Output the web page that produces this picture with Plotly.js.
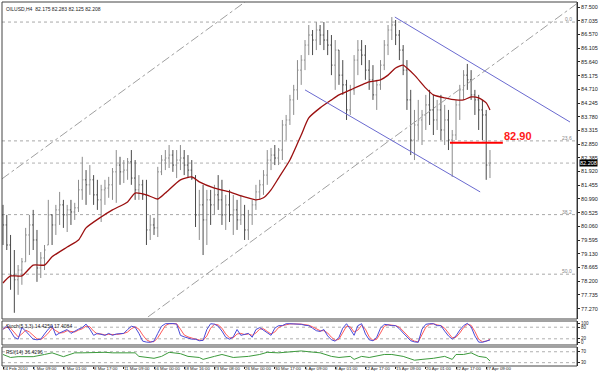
<!DOCTYPE html>
<html><head><meta charset="utf-8">
<script src="https://cdn.plot.ly/plotly-3.0.1.min.js"></script>
<style>html,body{margin:0;padding:0;background:#fff;}#chart{width:600px;height:376px;}</style>
</head><body><div id="chart"></div>
<script>
// ---- price bars (H4, one bar per slot) ----
const barOpen = [
80.45,80.11,79.43,78.41,78.25,78.58,78.86,79.77,80.11,79.60,
78.65,78.99,79.43,80.45,80.11,80.62,80.79,80.45,80.62,80.55,
80.69,81.30,81.64,81.47,81.64,81.13,80.96,81.30,81.36,81.47,
81.91,82.14,81.91,81.97,82.25,81.70,81.30,81.47,81.13,79.94,
80.11,80.01,81.91,82.31,82.38,82.48,82.14,82.31,82.38,82.14,
81.97,81.70,80.45,80.79,80.28,80.96,80.79,81.13,80.96,80.45,
80.79,80.45,80.62,80.28,80.45,79.94,80.45,80.79,81.23,81.47,
81.80,82.31,82.48,82.38,82.65,83.50,83.67,84.35,84.69,85.36,
85.70,86.21,86.55,86.38,86.72,86.55,86.38,86.21,85.53,86.04,
85.19,84.86,84.01,84.69,85.70,86.04,85.87,85.36,85.03,84.52,
84.86,85.53,86.21,86.72,86.89,86.55,86.04,85.36,84.35,82.99,
83.50,83.67,83.84,84.18,84.01,83.67,84.01,83.33,83.67,82.99,
83.16,84.18,84.69,85.19,85.03,84.52,84.35,84.01,83.84,82.14];
const barHigh = [
80.79,80.45,79.77,79.26,78.75,78.99,80.01,80.45,80.62,79.94,
79.19,79.43,80.96,80.45,80.79,81.23,80.96,80.79,80.96,80.86,
81.64,82.42,81.97,82.14,81.80,81.64,81.47,81.64,81.74,82.04,
82.65,82.42,82.31,82.38,82.65,82.31,81.80,81.64,81.64,80.45,
80.35,82.08,82.48,82.65,82.82,82.65,82.65,82.82,82.65,82.48,
82.31,81.80,81.30,81.47,81.30,81.30,81.47,81.80,81.64,81.13,
81.30,81.13,80.96,81.13,80.79,80.62,80.96,81.47,81.64,81.97,
82.65,82.72,82.82,82.72,83.67,83.84,84.52,84.86,85.70,85.87,
86.38,86.89,86.72,86.99,86.89,86.99,86.72,86.55,86.38,86.04,
85.70,85.03,84.86,85.87,86.38,86.38,86.21,85.70,85.53,85.03,
85.70,86.38,86.89,87.16,87.06,86.72,86.21,85.70,84.69,84.01,
84.35,84.01,84.52,84.69,84.52,84.35,84.52,84.18,84.01,83.33,
84.35,84.86,85.36,85.57,85.36,84.69,84.52,84.35,84.01,82.65];
const barLow = [
79.43,79.26,77.91,77.13,77.74,78.08,78.86,79.09,79.26,78.18,
78.31,78.58,79.43,79.43,79.77,80.11,80.01,79.87,80.11,80.28,
80.55,80.96,80.79,81.13,80.79,80.62,80.21,80.79,81.03,80.96,
80.86,81.47,81.53,81.64,81.47,80.96,80.96,80.96,79.43,79.60,
79.77,79.70,81.80,81.97,82.04,81.91,81.70,81.97,81.80,81.70,
81.64,80.04,79.60,79.09,79.43,80.11,80.45,80.62,80.11,79.94,
80.21,79.77,79.94,80.11,79.60,79.60,80.11,80.62,80.96,81.13,
81.47,81.97,82.14,82.14,82.31,82.99,83.50,83.84,84.35,84.86,
85.36,85.87,85.87,86.04,86.21,86.04,85.87,85.19,84.69,84.86,
84.52,83.67,83.84,84.52,85.19,85.53,85.03,84.69,84.35,84.01,
84.69,85.36,85.87,86.38,86.21,85.70,85.19,84.01,82.48,82.31,
82.99,82.82,83.33,83.50,83.16,83.33,82.99,82.82,82.65,81.74,
82.99,83.67,84.35,84.69,84.35,83.84,83.33,82.99,81.64,81.70];
const barClose = [
80.11,79.43,78.41,78.25,78.58,78.86,79.77,80.11,79.60,78.65,
78.99,79.26,80.45,80.11,80.62,80.79,80.45,80.62,80.55,80.69,
81.30,81.64,81.47,81.64,81.13,80.96,81.30,81.36,81.47,81.91,
82.14,81.91,81.97,82.25,81.70,81.30,81.47,81.13,79.94,80.11,
80.01,81.91,82.31,82.38,82.48,82.14,82.31,82.38,82.14,81.97,
81.70,80.45,80.79,80.28,80.96,80.79,81.13,80.96,80.45,80.79,
80.45,80.62,80.28,80.45,79.94,80.45,80.79,81.23,81.47,81.80,
82.31,82.48,82.38,82.65,83.50,83.67,84.35,84.69,85.36,85.70,
86.21,86.55,86.38,86.72,86.55,86.38,86.21,85.53,86.04,85.19,
84.86,84.01,84.69,85.70,86.04,85.87,85.36,85.03,84.52,84.86,
85.53,86.21,86.72,86.89,86.55,86.04,85.36,84.35,82.99,83.50,
83.67,83.84,84.18,84.01,83.67,84.01,83.33,83.67,82.99,83.16,
84.18,84.69,85.19,85.03,84.52,84.35,84.01,83.84,82.14,82.21];
const barIndex = barOpen.map((_, i) => i);

// ---- moving average ----
const maBar = [0,2,5,8,11,13,17,20,22,26,29,33,35,38,41,43,47,50,52,56,60,64,67,69,71,73,76,79,81,84,87,89,92,95,97,100,102,104,106,107,109,112,114,117,120,122,124,126,128,129];
const maValue = [78.14,78.38,78.38,78.75,78.75,79.03,79.36,79.60,80.01,80.38,80.62,80.89,81.19,81.13,80.99,81.19,81.64,81.74,81.57,81.36,81.23,81.06,80.96,81.03,81.30,81.70,82.31,83.16,83.74,84.08,84.35,84.52,84.69,84.86,84.96,85.03,85.19,85.43,85.53,85.43,85.19,84.75,84.52,84.42,84.35,84.35,84.45,84.42,84.25,84.01];

// ---- stochastic (5,3,3) ----
const stochMain = [68,88,60,28,18,78,60,38,18,15,18,45,70,88,38,50,60,68,48,60,70,78,96,70,38,48,42,38,48,38,45,48,48,68,85,80,48,8,3,2,8,48,85,98,100,99,96,38,30,25,18,18,10,12,68,98,96,85,60,28,18,30,68,38,45,48,28,68,78,65,48,38,75,88,88,98,98,97,98,95,90,88,75,62,58,68,35,15,8,28,75,98,70,38,88,98,45,15,10,28,75,95,92,88,88,72,50,28,10,4,2,70,95,98,98,88,88,60,35,18,35,65,88,100,82,35,3,2,10,14];
const stochSignal = [70,80,75,50,30,45,65,55,35,20,16,30,50,75,62,50,52,62,58,55,65,72,85,82,60,45,45,40,43,42,42,45,48,55,72,82,70,40,15,5,5,25,60,88,98,99,98,70,40,30,22,18,14,12,35,75,95,92,75,45,25,25,45,48,42,45,38,50,70,72,58,45,55,78,88,92,97,97,97,96,93,90,82,70,62,62,50,28,12,18,50,85,82,55,65,90,70,30,12,18,50,85,93,90,88,80,62,40,18,8,4,40,80,95,98,92,88,75,48,25,28,50,78,95,90,58,18,5,8,17];
const stochLevels = [80, 20];

// ---- RSI(14) ----
const rsiBar = [0,2,4,8,11,13,16,19,21,24,27,29,32,34,35,36,38,40,42,44,47,49,52,53,56,58,61,65,68,70,73,76,79,81,84,87,89,92,93,95,97,101,103,106,109,111,114,117,119,120,122,124,126,128,129];
const rsiValue = [60,49,52,52,60,66,52,66,66,68,68,66,66,68,66,53,49,46,53,68,63,53,49,42,53,60,49,53,60,68,66,70,73,70,66,53,49,53,42,53,49,60,60,53,39,42,46,53,42,60,60,66,53,49,36.4];
const rsiLevels = [70, 30];

// ---- annotations / drawn objects ----
const fibLabels = ["0.0", "23.6", "38.2", "50.0"];
const fibPrices = [86.99, 82.96, 80.46, 78.44];
const bidPrice = 82.208;
const levelPrice = 82.90;
const levelBars = [118.4, 132.4];
const channelUpper = {bars: [103.8, 150.2], prices: [87.16, 83.60]};
const channelLower = {bars: [80.0, 126.4], prices: [84.69, 81.23]};
const trendA = {bars: [-0.3, 64.1], prices: [81.67, 87.67]};
const trendB = {bars: [38.4, 152.3], prices: [76.99, 87.64]};

const dateTickPos = [0,8,16,24,32,40,48,56,64,72,80,88,96,104,112,120,128];
const dateLabels = ["24 Feb 2010","1 Mar 09:00","4 Mar 01:00","8 Mar 17:00","11 Mar 09:00","16 Mar 00:00","18 Mar 16:00","23 Mar 08:00","26 Mar 00:00","30 Mar 17:00","5 Apr 09:00","8 Apr 01:00","12 Apr 17:00","15 Apr 09:00","20 Apr 01:00","22 Apr 17:00","27 Apr 09:00"];
const priceTicks = [87.500,87.035,86.570,86.105,85.640,85.175,84.710,84.245,83.780,83.315,82.850,82.385,81.920,81.455,80.990,80.525,80.060,79.595,79.130,78.665,78.200,77.735,77.270];
const priceTickText = priceTicks.map(v => v.toFixed(3));

const FONT = "Liberation Sans, Arial, sans-serif";

const traces = [
  {type:'ohlc', x:barIndex, open:barOpen, high:barHigh, low:barLow, close:barClose,
   xaxis:'x', yaxis:'y', tickwidth:0.3, hoverinfo:'none',
   increasing:{line:{color:'#8c8c8c', width:1}}, decreasing:{line:{color:'#4a4a4a', width:1}}},
  {type:'scatter', mode:'lines', x:maBar, y:maValue, xaxis:'x', yaxis:'y',
   line:{color:'#9b1010', width:1.3, shape:'spline', smoothing:0.6}, hoverinfo:'none'},
  {type:'scatter', mode:'lines', x:barIndex, y:stochSignal, xaxis:'x', yaxis:'y2',
   line:{color:'#ff5a5a', width:1}, hoverinfo:'none'},
  {type:'scatter', mode:'lines', x:barIndex, y:stochMain, xaxis:'x', yaxis:'y2',
   line:{color:'#4a4ad8', width:1}, hoverinfo:'none'},
  {type:'scatter', mode:'lines', x:rsiBar, y:rsiValue, xaxis:'x', yaxis:'y3',
   line:{color:'#3c9a3c', width:1}, hoverinfo:'none'}
];

const shapes = [];
fibPrices.forEach(p => shapes.push({type:'line', xref:'paper', x0:0, x1:1, yref:'y', y0:p, y1:p,
  line:{color:'#a8a8a8', width:1, dash:'dot'}, layer:'below'}));
shapes.push({type:'line', xref:'paper', x0:0, x1:1, yref:'y', y0:bidPrice, y1:bidPrice,
  line:{color:'#b0b0b0', width:1, dash:'dot'}, layer:'below'});
stochLevels.forEach(v => shapes.push({type:'line', xref:'paper', x0:0, x1:1, yref:'y2', y0:v, y1:v,
  line:{color:'#b0b0b0', width:1, dash:'dot'}, layer:'below'}));
rsiLevels.forEach(v => shapes.push({type:'line', xref:'paper', x0:0, x1:1, yref:'y3', y0:v, y1:v,
  line:{color:'#b0b0b0', width:1, dash:'dot'}, layer:'below'}));
[trendA, trendB].forEach(t => shapes.push({type:'line', xref:'x', yref:'y',
  x0:t.bars[0], x1:t.bars[1], y0:t.prices[0], y1:t.prices[1],
  line:{color:'#a0a0a0', width:1, dash:'dashdot'}}));
[channelUpper, channelLower].forEach(t => shapes.push({type:'line', xref:'x', yref:'y',
  x0:t.bars[0], x1:t.bars[1], y0:t.prices[0], y1:t.prices[1],
  line:{color:'#6a6ad0', width:1}}));
shapes.push({type:'line', xref:'x', yref:'y', x0:levelBars[0], x1:levelBars[1], y0:levelPrice, y1:levelPrice,
  line:{color:'#ff0000', width:2}});
['y domain','y2 domain','y3 domain'].forEach(r => shapes.push({type:'rect', xref:'paper', x0:0, x1:1,
  yref:r, y0:0, y1:1, line:{color:'#444', width:1}, fillcolor:'rgba(0,0,0,0)'}));

const annotations = [
  {xref:'paper', yref:'paper', x:0.004, y:1, xanchor:'left', yanchor:'top', yshift:-2, showarrow:false,
   text:'OILUSD,H4  82.175 82.283 82.125 82.208', font:{family:FONT, size:5, color:'#222'}},
  {xref:'paper', yref:'y2 domain', x:0.004, y:1, xanchor:'left', yanchor:'top', showarrow:false,
   text:'Stoch(5,3,3) 14.4250 17.4084', font:{family:FONT, size:5, color:'#222'}},
  {xref:'paper', yref:'y3 domain', x:0.004, y:1, xanchor:'left', yanchor:'top', showarrow:false,
   text:'RSI(14) 36.4296', font:{family:FONT, size:5, color:'#222'}},
  {xref:'paper', yref:'y', x:1, y:bidPrice, xanchor:'left', yanchor:'middle', xshift:2, showarrow:false,
   text:bidPrice.toFixed(3), bgcolor:'#000', borderpad:0, font:{family:FONT, size:5.5, color:'#fff'}},
  {xref:'x', yref:'y', x:levelBars[1], y:levelPrice, xanchor:'left', yanchor:'bottom', showarrow:false,
   xshift:-1, yshift:-1, text:'<b>' + levelPrice.toFixed(2) + '</b>', font:{family:FONT, size:11, color:'#ff1a1a'}}
];
fibPrices.forEach((p, i) => annotations.push({xref:'paper', yref:'y', x:0.995, y:p, xanchor:'right', yanchor:'bottom',
  showarrow:false, yshift:-2, text:fibLabels[i], font:{family:FONT, size:5, color:'#888'}}));
dateTickPos.forEach((b, i) => annotations.push({xref:'x', yref:'paper', x:b, y:0, xanchor:'left', yanchor:'top',
  showarrow:false, xshift:-1, yshift:1, borderpad:0, text:dateLabels[i], font:{family:FONT, size:4.4, color:'#222'}}));

const axisY = {side:'right', showgrid:false, zeroline:false, showline:true, linecolor:'#222', linewidth:1,
  ticks:'outside', ticklen:2, tickcolor:'#222', tickfont:{family:FONT, size:5.5, color:'#222'}, anchor:'x', fixedrange:true};

const layout = {
  width:600, height:376, margin:{l:2, r:23, t:2, b:10}, paper_bgcolor:'#fff', plot_bgcolor:'#fff',
  showlegend:false, dragmode:false,
  xaxis:{type:'linear', range:[-0.265, 152.05], anchor:'y3', showgrid:false, zeroline:false, showline:false,
    rangeslider:{visible:false}, tickvals:dateTickPos, showticklabels:false, ticks:'outside', ticklen:2,
    tickcolor:'#222', fixedrange:true},
  yaxis:Object.assign({}, axisY, {domain:[0.1291, 1], range:[76.92, 87.67], tickvals:priceTicks, ticktext:priceTickText}),
  yaxis2:Object.assign({}, axisY, {domain:[0.0577, 0.1236], range:[-12, 112], tickvals:[100,80,20,0], ticktext:['100','80','20','0'], tickfont:{family:FONT, size:4.5, color:'#222'}}),
  yaxis3:Object.assign({}, axisY, {domain:[0, 0.0522], range:[17.8, 87.4], tickvals:rsiLevels, ticktext:rsiLevels.map(String), tickfont:{family:FONT, size:4.5, color:'#222'}}),
  shapes:shapes, annotations:annotations
};

Plotly.newPlot('chart', traces, layout, {staticPlot:true, displayModeBar:false});
</script>
</body></html>
